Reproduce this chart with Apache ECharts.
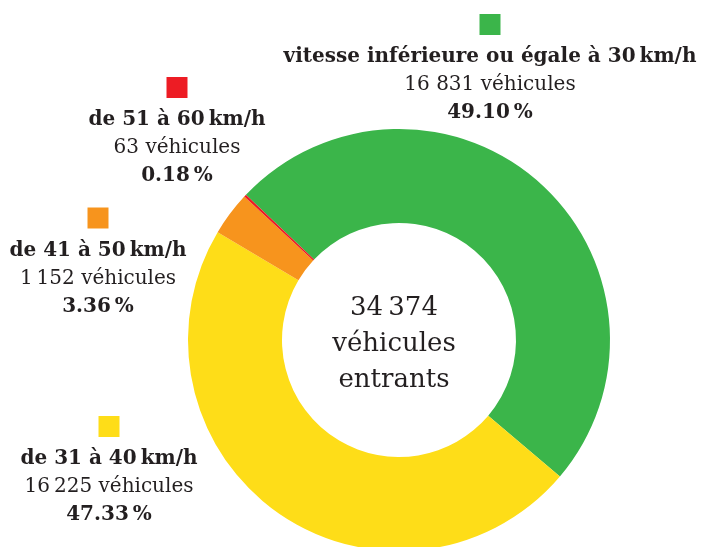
<!DOCTYPE html>
<html>
<head>
<meta charset="utf-8">
<style>
  html, body { margin: 0; padding: 0; background: #ffffff; }
  #chart { width: 701px; height: 547px; }
</style>
<script src="https://cdn.jsdelivr.net/npm/echarts@6/dist/echarts.min.js"></script>
</head>
<body>
<div id="chart"></div>
<script>
// ---- data ----
const categories = [
  'vitesse inférieure ou égale à 30\u2009km/h',
  'de 31 à 40\u2009km/h',
  'de 41 à 50\u2009km/h',
  'de 51 à 60\u2009km/h'
];
const vehicleCounts = [16831, 16225, 1152, 63];
const countLabels = ['16 831', '16\u2009225', '1\u2009152', '63'];
const percentLabels = ['49.10', '47.33', '3.36', '0.18'];
const totalLabel = '34\u2009374';
const centerLines = ['véhicules', 'entrants'];

// ---- styles / layout ----
const colors = ['#3bb54a', '#fedd18', '#f7941d', '#ed1c24'];
const labelPos = [[490, 6], [109, 408], [98, 199.5], [177, 69]];
const textColor = '#231f20';
const FONT = '"DejaVu Serif", serif';

const chart = echarts.init(document.getElementById('chart'), null, { renderer: 'canvas' });

const data = categories.map((c, i) => ({
  name: c,
  value: vehicleCounts[i],
  itemStyle: { color: colors[i] },
  label: {
    rich: {
      sq: { width: 21, height: 21, lineHeight: 37, backgroundColor: colors[i], verticalAlign: 'middle' }
    }
  }
}));

chart.setOption({
  animation: false,
  series: [{
    type: 'pie',
    center: [399, 340],
    radius: [117, 211],
    startAngle: 136.5,
    clockwise: true,
    avoidLabelOverlap: false,
    silent: true,
    data: data,
    labelLine: { show: false },
    label: {
      show: true,
      position: 'outside',
      align: 'center',
      color: textColor,
      fontFamily: FONT,
      formatter: p => {
        const i = p.dataIndex;
        return '{sq|\u00a0}\n{b|' + categories[i] + '}\n{n|' + countLabels[i] + ' véhicules}\n{p|' + percentLabels[i] + '\u2009%}';
      },
      rich: {
        b: { fontFamily: FONT, fontWeight: 'bold', fontSize: 20, lineHeight: 28, color: textColor },
        n: { fontFamily: FONT, fontWeight: 'normal', fontSize: 20, lineHeight: 28, color: textColor },
        p: { fontFamily: FONT, fontWeight: 'bold', fontSize: 20, lineHeight: 28, color: textColor }
      }
    },
    labelLayout: params => ({
      x: labelPos[params.dataIndex][0],
      y: labelPos[params.dataIndex][1],
      align: 'center',
      verticalAlign: 'top'
    })
  }],
  graphic: [{
    type: 'text',
    x: 394,
    y: 344,
    style: {
      text: [totalLabel].concat(centerLines).join('\n'),
      fill: textColor,
      font: '26px ' + FONT,
      lineHeight: 36,
      align: 'center',
      verticalAlign: 'middle'
    }
  }]
});
</script>
</body>
</html>
